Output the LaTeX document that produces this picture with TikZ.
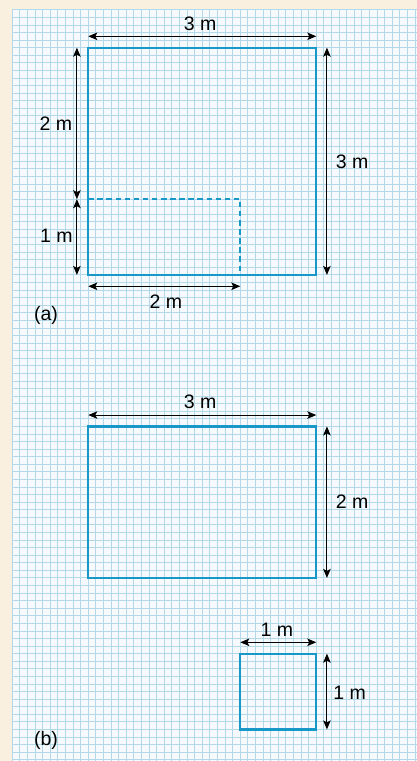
\documentclass[tikz,border=0pt]{standalone}
\usepackage{fontspec}
\setmainfont{Liberation Sans}
\usetikzlibrary{arrows.meta}
\definecolor{beige}{HTML}{FAF0E0}
\definecolor{paper}{HTML}{F6FAFC}
\definecolor{gridc}{HTML}{B2D8E9}
\definecolor{shapec}{HTML}{1798C8}
\tikzset{
  shapeline/.style={draw=shapec, line width=2.3pt},
  dashedshape/.style={draw=shapec, line width=2.3pt, dash pattern=on 5.5pt off 3.6pt},
  dimline/.style={draw=black, line width=1pt, {Stealth[length=9pt,width=7.5pt,inset=2pt]}-{Stealth[length=9pt,width=7.5pt,inset=2pt]}},
  lbl/.style={inner sep=0pt, font=\fontsize{19.5}{23}\selectfont}
}
\begin{document}
\begin{tikzpicture}[x=7.6pt,y=-7.575pt]
% bounding box and background
\path[fill=beige] (-1.618,-1.294) rectangle (53.25,99.17);
\useasboundingbox (-1.618,-1.294) rectangle (53.25,99.17);
\fill[paper] (0,0) rectangle (53.25,99.17);
\foreach \i in {0,...,53} \draw[gridc, line width=0.85pt] (\i,0) -- (\i,99.17);
\foreach \j in {0,...,99} \draw[gridc, line width=0.85pt] (0,\j) -- (53.25,\j);

% (a)
\coordinate (a1) at (10,5);
\coordinate (a2) at (40,5);
\coordinate (a3) at (40,35);
\coordinate (a4) at (10,35);
\coordinate (d1) at (10,25);
\coordinate (d2) at (30,25);
\coordinate (d3) at (30,35);
\draw[dashedshape] (d1) -- (d2) -- (d3);
\draw[shapeline] (a1) -- (a2) -- (a3) -- (a4) -- cycle;

\coordinate (ta1) at (10,3.5);
\coordinate (ta2) at (40,3.5);
\draw[dimline] (ta1) -- (ta2);
\node[lbl] (la1) at (24.7,1.8) {3 m};

\coordinate (la2top) at (8.5,5);
\coordinate (la2mid) at (8.5,25);
\coordinate (la2bot) at (8.5,35);
\draw[dimline] (la2top) -- (la2mid);
\draw[dimline] (la2mid) -- (la2bot);
\node[lbl] (la2) at (5.75,15.08) {2 m};
\node[lbl] (la3) at (5.8,29.86) {1 m};

\coordinate (ra1) at (41.4,5);
\coordinate (ra2) at (41.4,35);
\draw[dimline] (ra1) -- (ra2);
\node[lbl] (la4) at (44.7,20.1) {3 m};

\coordinate (ba1) at (10,36.5);
\coordinate (ba2) at (30,36.5);
\draw[dimline] (ba1) -- (ba2);
\node[lbl] (la5) at (20.2,38.5) {2 m};

\node[lbl] (tagA) at (4.43,40.4) {(a)};

% (b)
\coordinate (b1) at (10,55);
\coordinate (b2) at (40,55);
\coordinate (b3) at (40,75);
\coordinate (b4) at (10,75);
\draw[shapeline] (b1) -- (b2) -- (b3) -- (b4) -- cycle;

\coordinate (tb1) at (10,53.5);
\coordinate (tb2) at (40,53.5);
\draw[dimline] (tb1) -- (tb2);
\node[lbl] (lb1) at (24.7,51.8) {3 m};

\coordinate (rb1) at (41.4,55);
\coordinate (rb2) at (41.4,75);
\draw[dimline] (rb1) -- (rb2);
\node[lbl] (lb2) at (44.7,65) {2 m};

\coordinate (s1) at (30,85);
\coordinate (s2) at (40,85);
\coordinate (s3) at (40,95);
\coordinate (s4) at (30,95);
\draw[shapeline] (s1) -- (s2) -- (s3) -- (s4) -- cycle;

\coordinate (ts1) at (30,83.5);
\coordinate (ts2) at (40,83.5);
\draw[dimline] (ts1) -- (ts2);
\node[lbl] (ls1) at (34.8,81.9) {1 m};

\coordinate (rs1) at (41.4,85);
\coordinate (rs2) at (41.4,95);
\draw[dimline] (rs1) -- (rs2);
\node[lbl] (ls2) at (44.4,90.1) {1 m};

\node[lbl] (tagB) at (4.43,96.4) {(b)};
\end{tikzpicture}
\end{document}
